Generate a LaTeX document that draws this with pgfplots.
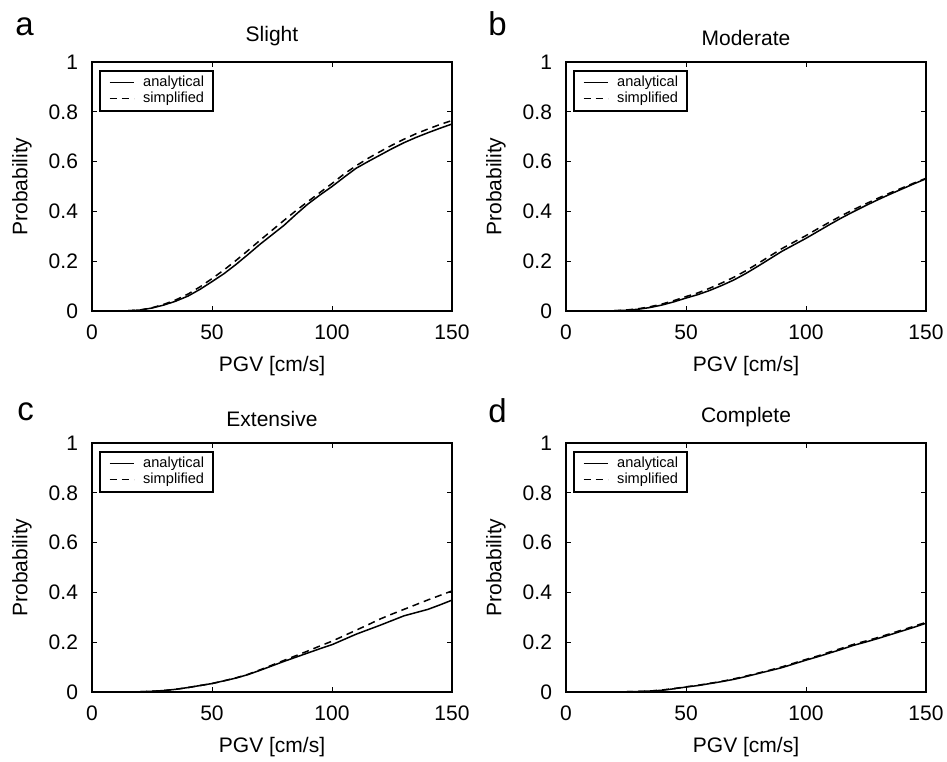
\documentclass[border=0pt]{standalone}
\usepackage{fontspec}
\setmainfont{Liberation Sans}
\usepackage{pgfplots}
\pgfplotsset{compat=1.18}
\pgfplotsset{
  panel/.style={
    width=180pt, height=124.5pt, scale only axis,
    xmin=0, xmax=150, ymin=0, ymax=1,
    xtick={0,50,100,150}, ytick={0,0.2,0.4,0.6,0.8,1},
    tick align=inside, major tick length=2.5pt,
    axis line style={line width=0.65pt, black},
    every tick/.style={line width=0.5pt, black},
    /pgf/number format/assume math mode=true,
    tick label style={font=\fontsize{10.5}{12}\selectfont},
    xticklabel style={yshift=-3.5pt},
    yticklabel style={xshift=-3.5pt},
    xlabel={PGV [cm/s]}, ylabel={Probability},
    label style={font=\fontsize{10.5}{12}\selectfont},
    xlabel style={at={(axis description cs:0.5,0)}, anchor=center, yshift=-27.5pt},
    ylabel style={at={(axis description cs:0,0.5)}, anchor=center, yshift=35pt},
    every axis title/.style={at={(axis description cs:0.5,1)}, anchor=south, yshift=4.5pt, font=\fontsize{10.5}{12}\selectfont},
    legend style={at={(axis description cs:0,1)}, anchor=north west, xshift=3.5pt, yshift=-4pt,
      draw=black, line width=1pt, font=\fontsize{7.3}{8.5}\selectfont,
      inner xsep=4.5pt, inner ysep=2.5pt, row sep=1.2pt, fill=white,
      nodes={inner sep=0pt},
      /tikz/every odd column/.append style={column sep=4.5pt}},
    legend cell align=left,
    legend image code/.code={\draw[#1, line width=0.6pt] (0pt,0pt) -- (12pt,0pt);},
  },
  ana/.style={black, line width=0.75pt},
  sim/.style={black, line width=0.75pt, dash pattern=on 3.5pt off 2.5pt},
}
\begin{document}
\begin{tikzpicture}
\useasboundingbox (0,0) rectangle (473.5pt,-380.5pt);
% panel a
\begin{axis}[panel, at={(46pt,-155.5pt)}, anchor=south west, title={Slight}]
\addplot[ana] coordinates {(0,0) (5,0) (10,0) (15,0.001) (20,0.004) (25,0.012) (30,0.024) (35,0.04) (40,0.06) (45,0.087) (50,0.118) (55,0.15) (60,0.187) (65,0.227) (70,0.268) (75,0.306) (80,0.344) (85,0.388) (90,0.43) (95,0.466) (100,0.50) (105,0.537) (110,0.573) (115,0.60) (120,0.626) (125,0.652) (130,0.676) (135,0.697) (140,0.716) (145,0.734) (150,0.751)};
\addlegendentry{analytical}
\addplot[sim] coordinates {(0,0) (5,0) (10,0) (15,0.001) (20,0.004) (25,0.013) (30,0.027) (35,0.045) (40,0.068) (45,0.097) (50,0.13) (55,0.165) (60,0.203) (65,0.243) (70,0.284) (75,0.324) (80,0.364) (85,0.403) (90,0.44) (95,0.476) (100,0.512) (105,0.55) (110,0.583) (115,0.613) (120,0.64) (125,0.666) (130,0.69) (135,0.712) (140,0.731) (145,0.749) (150,0.765)};
\addlegendentry{simplified}
\end{axis}
% panel b
\begin{axis}[panel, at={(283pt,-155.5pt)}, anchor=south west, title={Moderate}]
\addplot[ana] coordinates {(0,0) (5,0) (10,0) (15,0) (20,0.001) (25,0.003) (30,0.007) (35,0.014) (40,0.024) (45,0.037) (50,0.052) (55,0.066) (60,0.083) (65,0.103) (70,0.125) (75,0.151) (80,0.18) (85,0.21) (90,0.24) (95,0.266) (100,0.292) (105,0.32) (110,0.348) (115,0.375) (120,0.40) (125,0.424) (130,0.447) (135,0.469) (140,0.49) (145,0.511) (150,0.531)};
\addlegendentry{analytical}
\addplot[sim] coordinates {(0,0) (5,0) (10,0) (15,0) (20,0.001) (25,0.004) (30,0.009) (35,0.017) (40,0.028) (45,0.042) (50,0.058) (55,0.073) (60,0.092) (65,0.113) (70,0.136) (75,0.162) (80,0.191) (85,0.221) (90,0.251) (95,0.277) (100,0.303) (105,0.331) (110,0.358) (115,0.384) (120,0.408) (125,0.431) (130,0.453) (135,0.474) (140,0.494) (145,0.514) (150,0.533)};
\addlegendentry{simplified}
\end{axis}
% panel c
\begin{axis}[panel, at={(46pt,-346pt)}, anchor=south west, title={Extensive}]
\addplot[ana] coordinates {(0,0) (5,0) (10,0) (15,0) (20,0.001) (25,0.003) (30,0.006) (35,0.011) (40,0.018) (45,0.026) (50,0.034) (55,0.045) (60,0.056) (65,0.07) (70,0.087) (75,0.105) (80,0.123) (85,0.14) (90,0.157) (95,0.174) (100,0.19) (105,0.211) (110,0.232) (115,0.25) (120,0.268) (125,0.287) (130,0.306) (135,0.319) (140,0.332) (145,0.35) (150,0.369)};
\addlegendentry{analytical}
\addplot[sim] coordinates {(0,0) (5,0) (10,0) (15,0) (20,0.001) (25,0.003) (30,0.006) (35,0.011) (40,0.018) (45,0.026) (50,0.034) (55,0.045) (60,0.057) (65,0.071) (70,0.089) (75,0.108) (80,0.127) (85,0.146) (90,0.165) (95,0.185) (100,0.204) (105,0.226) (110,0.248) (115,0.27) (120,0.293) (125,0.313) (130,0.332) (135,0.351) (140,0.37) (145,0.388) (150,0.406)};
\addlegendentry{simplified}
\end{axis}
% panel d
\begin{axis}[panel, at={(283pt,-346pt)}, anchor=south west, title={Complete}]
\addplot[ana] coordinates {(0,0) (5,0) (10,0) (15,0) (20,0) (25,0.001) (30,0.002) (35,0.004) (40,0.007) (45,0.013) (50,0.02) (55,0.026) (60,0.034) (65,0.042) (70,0.051) (75,0.062) (80,0.074) (85,0.086) (90,0.098) (95,0.113) (100,0.128) (105,0.142) (110,0.157) (115,0.172) (120,0.188) (125,0.201) (130,0.215) (135,0.23) (140,0.245) (145,0.26) (150,0.276)};
\addlegendentry{analytical}
\addplot[sim] coordinates {(0,0) (5,0) (10,0) (15,0) (20,0) (25,0.001) (30,0.002) (35,0.004) (40,0.008) (45,0.014) (50,0.021) (55,0.027) (60,0.035) (65,0.043) (70,0.053) (75,0.064) (80,0.076) (85,0.088) (90,0.101) (95,0.116) (100,0.131) (105,0.145) (110,0.161) (115,0.176) (120,0.192) (125,0.205) (130,0.219) (135,0.234) (140,0.249) (145,0.264) (150,0.28)};
\addlegendentry{simplified}
\end{axis}
% panel letters
\node[anchor=base west, inner sep=0pt, font=\fontsize{16.5}{20}\selectfont] at (7.5pt,-17.5pt) {a};
\node[anchor=base west, inner sep=0pt, font=\fontsize{16.5}{20}\selectfont] at (244pt,-17.5pt) {b};
\node[anchor=base west, inner sep=0pt, font=\fontsize{16.5}{20}\selectfont] at (8.5pt,-210pt) {c};
\node[anchor=base west, inner sep=0pt, font=\fontsize{16.5}{20}\selectfont] at (244pt,-211pt) {d};
\end{tikzpicture}
\end{document}
